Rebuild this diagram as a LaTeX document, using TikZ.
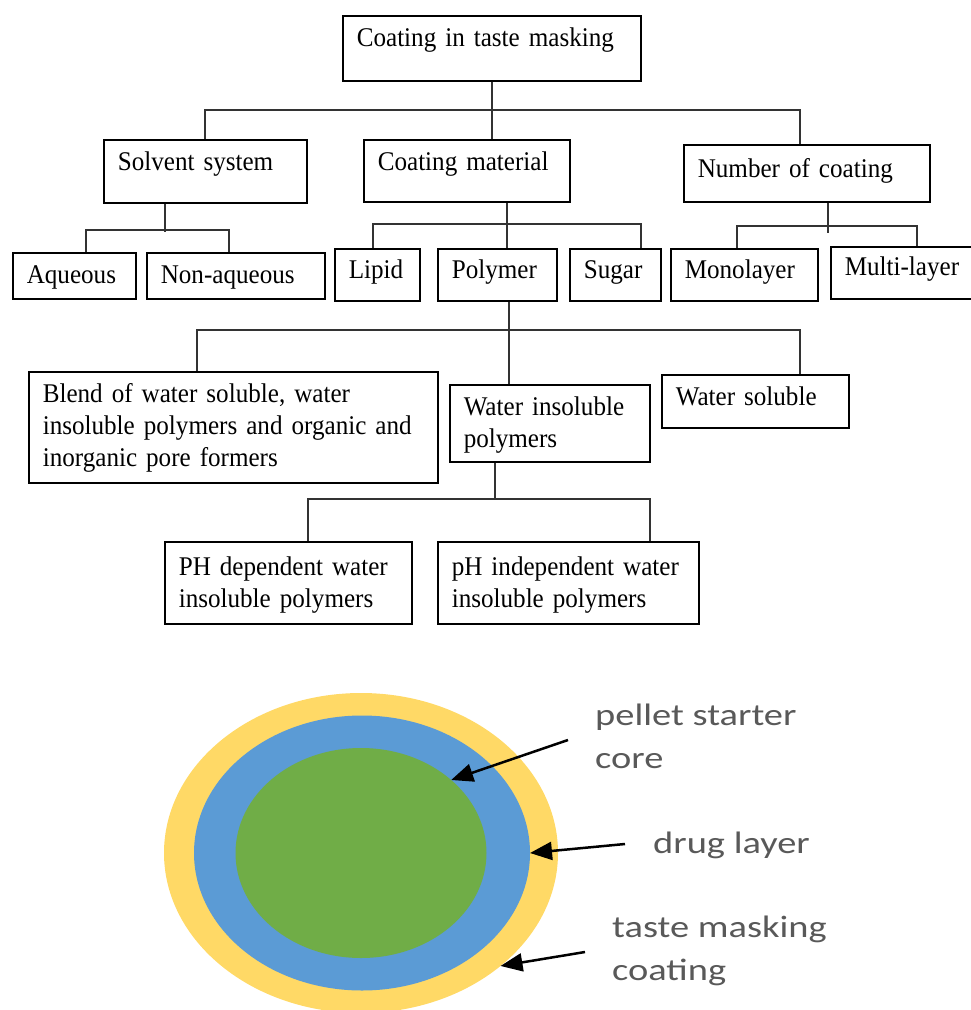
\documentclass[tikz,border=0pt]{standalone}
\usepackage{fontspec}
\setmainfont{Liberation Serif}[FakeStretch=0.93]
\newfontfamily\lblfont{Carlito}[FakeStretch=1.24]
\usetikzlibrary{shapes,arrows.meta,positioning}
\definecolor{coatyellow}{RGB}{255,217,102}
\definecolor{drugblue}{RGB}{91,155,213}
\definecolor{coregreen}{RGB}{112,173,71}
\definecolor{lblgray}{RGB}{89,89,89}

\begin{document}
\begin{tikzpicture}[x=1pt, y=-1pt,
  tbox/.style={draw, line width=1.6pt, anchor=north west, inner xsep=14pt, inner ysep=0pt, align=left, text height=31pt, font=\fontsize{27}{32}\selectfont},
  conn/.style={line width=2pt, draw=black!80},
  disc/.style={ellipse, inner sep=0pt, outer sep=0pt},
  lbl/.style={anchor=base west, align=left, inner sep=0pt, text=lblgray, font=\lblfont\fontsize{31}{43}\selectfont},
  pointer/.style={-{Triangle[length=22pt,width=18pt]}, line width=2.5pt}]
\useasboundingbox (0,0) rectangle (971,1010);

% tree of coating types
\node[tbox, text width=270pt, text depth=34pt] (root) at (342,15) {Coating in taste masking};
\node[tbox, text width=175pt, text depth=32pt] (solvent) at (103,139) {Solvent system};
\node[tbox, text width=178pt, text depth=31pt] (coatmat) at (363,139) {Coating material};
\node[tbox, text width=218pt, text depth=24pt, text height=33pt] (numcoat) at (683,144) {Number of coating};
\node[tbox, text width=95pt, text depth=15pt] (aqueous) at (12,252) {Aqueous};
\node[tbox, text width=150pt, text depth=15pt] (nonaq) at (146,252) {Non-aqueous};
\node[tbox, text width=57pt, text depth=22pt, text height=30pt] (lipid) at (334,248) {Lipid};
\node[tbox, text width=91pt, text depth=22pt, text height=30pt] (polymer) at (437,248) {Polymer};
\node[tbox, text width=63pt, text depth=22pt, text height=30pt] (sugar) at (569,248) {Sugar};
\node[tbox, text width=119pt, text depth=22pt, text height=30pt] (monolayer) at (670,248) {Monolayer};
\node[tbox, text width=127pt, text depth=23pt, text height=29pt] (multilayer) at (830,246) {Multi-layer};
\node[tbox, text width=381pt, text depth=80pt] (blend) at (28,371) {Blend of water soluble, water\\insoluble polymers and organic and\\inorganic pore formers};
\node[tbox, text width=172pt, text depth=46pt] (wins) at (449,384) {Water insoluble\\polymers};
\node[tbox, text width=159pt, text depth=22pt] (wsol) at (661,374) {Water soluble};
\node[tbox, text width=219pt, text depth=48pt, text height=34pt] (phdep) at (164,541) {PH dependent water\\insoluble polymers};
\node[tbox, text width=233pt, text depth=48pt, text height=34pt] (phind) at (437,541) {pH independent water\\insoluble polymers};

\draw[conn] (root.south) -- (root.south |- coatmat.north);
\coordinate (bus1) at ([yshift=-28pt]root.south);
\draw[conn] (solvent.north) |- (bus1) -| ([xshift=-7pt]numcoat.north);

\draw[conn] ([xshift=-40pt]solvent.south) -- ++(0,28);
\coordinate (bus2) at ([xshift=-40pt,yshift=-26pt]solvent.south);
\draw[conn] ([xshift=12pt]aqueous.north) |- (bus2) -| ([xshift=-7pt]nonaq.north);

\draw[conn] ([xshift=10pt]polymer.north) -- ([xshift=10pt]polymer.north |- coatmat.south);
\coordinate (bus3) at ([yshift=-21pt]coatmat.south);
\draw[conn] ([xshift=-4pt]lipid.north) |- (bus3) -| ([xshift=26pt]sugar.north);

\draw[conn] ([xshift=21pt]numcoat.south) -- ++(0,30);
\coordinate (bus4) at ([xshift=21pt,yshift=-23pt]numcoat.south);
\draw[conn] ([xshift=-7pt]monolayer.north) |- (bus4) -| ([xshift=9pt]multilayer.north);

\draw[conn] ([xshift=12pt]polymer.south) -- ([xshift=12pt]polymer.south |- wins.north);
\coordinate (bus5) at ([yshift=-28pt]polymer.south);
\draw[conn] ([xshift=-36pt]blend.north) |- (bus5) -| ([xshift=45pt]wsol.north);

\draw[conn] ([xshift=-55pt]wins.south) -- ++(0,36) coordinate (bus6);
\draw[conn] ([xshift=20pt]phdep.north) |- (bus6) -| ([xshift=82pt]phind.north);

% pellet cross section
\node[disc, fill=coatyellow, minimum width=394pt, minimum height=320pt] (coat) at (361,853) {};
\node[disc, fill=drugblue, minimum width=336pt, minimum height=275pt] (drug) at (362,853) {};
\node[disc, fill=coregreen, minimum width=251pt, minimum height=210pt] (core) at (361,853) {};

\node[lbl] (pellet) at (595,768) {pellet starter\\core};
\node[lbl] (druglbl) at (653,853) {drug layer};
\node[lbl] (taste) at (612,980) {taste masking\\coating};

\coordinate (pelletend) at (568,740);
\coordinate (drugend) at (625,844);
\coordinate (tasteend) at (585,952);
\draw[pointer] (pelletend) -- (core.39);
\draw[pointer] (drugend) -- (drug.east);
\draw[pointer] (tasteend) -- (coat.-39);
\end{tikzpicture}
\end{document}
